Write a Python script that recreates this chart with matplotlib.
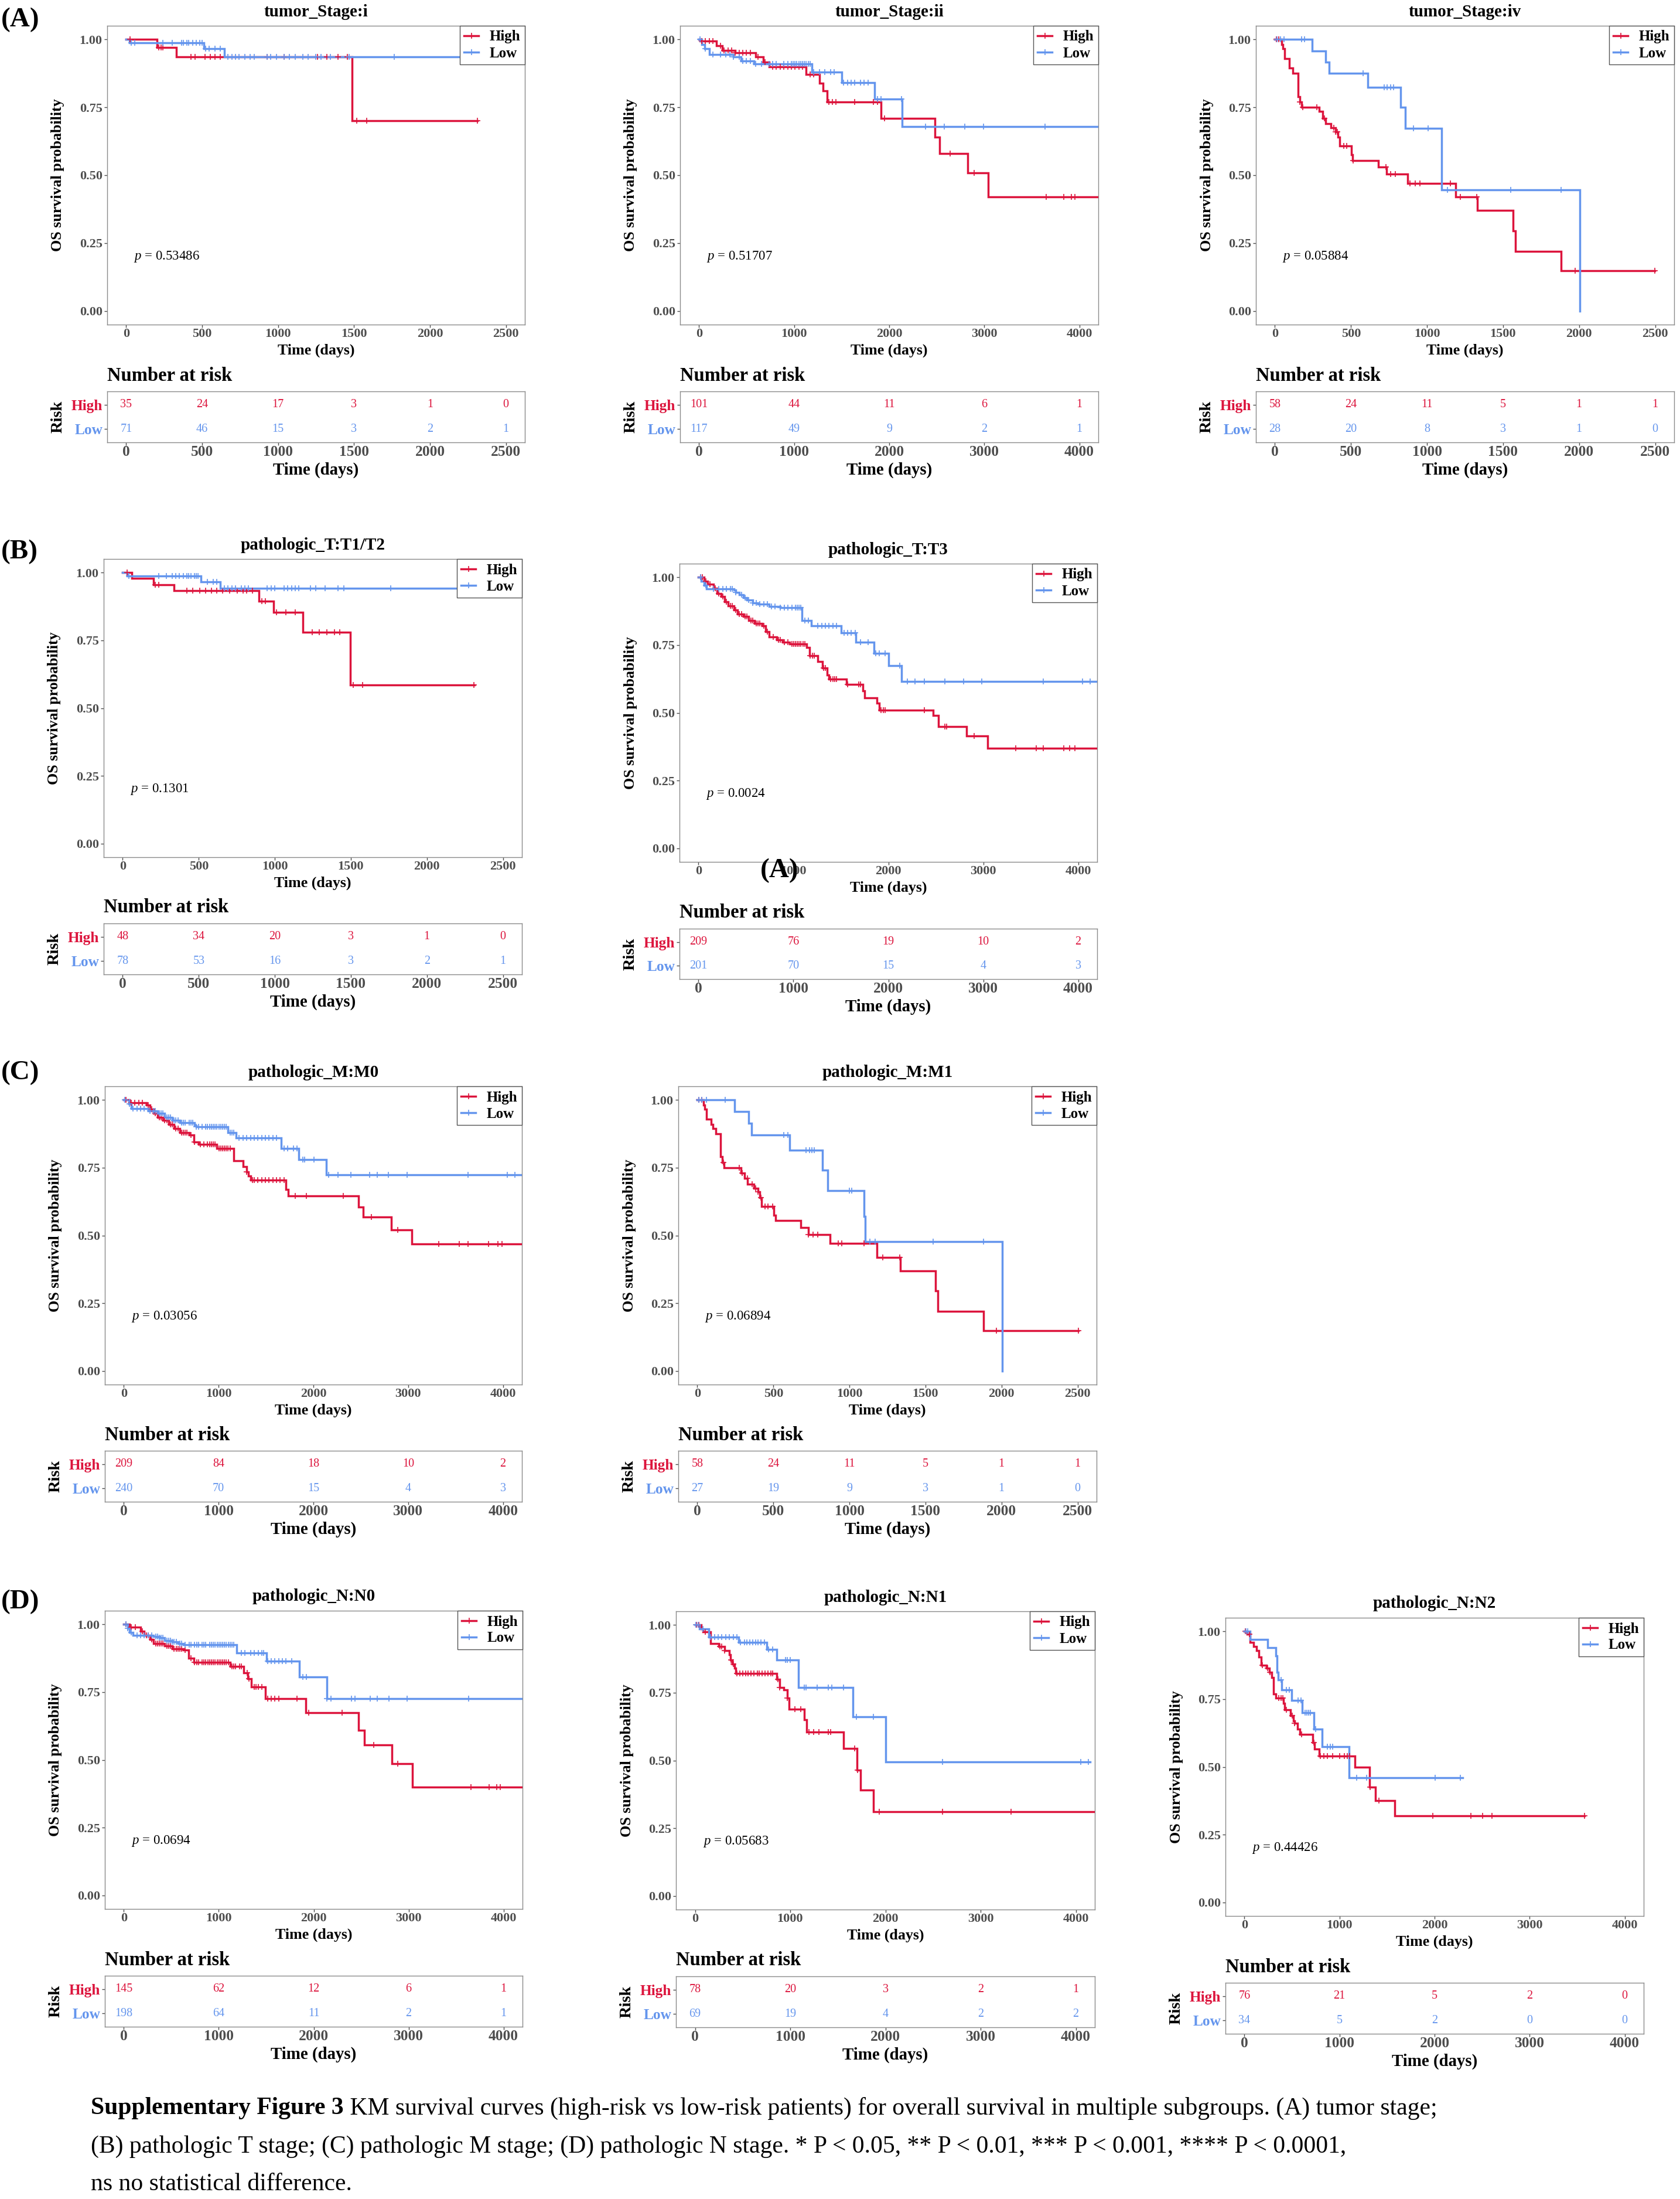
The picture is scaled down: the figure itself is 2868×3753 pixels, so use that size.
import numpy as np
import matplotlib
matplotlib.use("Agg")
import matplotlib.pyplot as plt
from matplotlib.lines import Line2D

# ---------------- DATA ----------------
# Panel A1: tumor_Stage:i
A1_title = "tumor_Stage:i"
A1_pval = "0.53486"
A1_high_t = [0, 204, 332, 1488]
A1_high_s = [1.0, 0.971, 0.936, 0.70]
A1_high_end = 2311
A1_high_cens = [27, 215, 230, 240, 425, 455, 519, 555, 585, 621, 928, 1039, 1260, 1321, 1395, 1456, 1518, 1584, 2311]
A1_low_t = [0, 20, 511, 646]
A1_low_s = [1.0, 0.988, 0.965, 0.936]
A1_low_end = 2700
A1_low_cens = [32, 56, 241, 302, 363, 376, 400, 413, 437, 462, 486, 499, 523, 548, 585, 621, 670, 695, 720, 744,
               781, 818, 842, 928, 953, 990, 1039, 1076, 1113, 1162, 1199, 1248, 1284, 1346, 1469, 1763]
A1_risk_times = [0, 500, 1000, 1500, 2000, 2500]
A1_risk_high = [35, 24, 17, 3, 1, 0]
A1_risk_low = [71, 46, 15, 3, 2, 1]

# Panel A2: tumor_Stage:ii
A2_title = "tumor_Stage:ii"
A2_pval = "0.51707"
A2_high_t = [0, 8, 185, 244, 381, 597, 676, 735, 1128, 1265, 1304, 1344, 1913, 2483, 2530, 2825, 3041]
A2_high_s = [1.0, 0.993, 0.977, 0.96, 0.95, 0.936, 0.917, 0.90, 0.87, 0.838, 0.81, 0.77, 0.71, 0.64, 0.58, 0.508, 0.42]
A2_high_end = 4300
A2_high_cens = [28, 67, 106, 145, 224, 263, 303, 342, 381, 420, 460, 499, 538, 617, 695, 774, 813, 853, 892, 931,
                970, 1010, 1049, 1088, 1167, 1206, 1363, 1403, 1442, 1638, 1835, 1874, 1953, 2640, 2896, 3650, 3839,
                3917, 3956]
A2_low_t = [0, 28, 59, 106, 361, 440, 577, 1187, 1501, 1847, 2137]
A2_low_s = [1.0, 0.98, 0.965, 0.945, 0.935, 0.92, 0.91, 0.88, 0.84, 0.78, 0.678]
A2_low_end = 4300
A2_low_cens = [8, 67, 145, 224, 283, 322, 361, 420, 460, 499, 538, 597, 656, 735, 774, 813, 892, 931, 970, 990,
               1010, 1029, 1049, 1069, 1088, 1108, 1128, 1147, 1167, 1206, 1265, 1324, 1383, 1422, 1521, 1560, 1599,
               1638, 1697, 1737, 1776, 1874, 1913, 2130, 2385, 2581, 2797, 2994, 3642]
A2_risk_times = [0, 1000, 2000, 3000, 4000]
A2_risk_high = [101, 44, 11, 6, 1]
A2_risk_low = [117, 49, 9, 2, 1]

# Panel A3: tumor_Stage:iv
A3_title = "tumor_Stage:iv"
A3_pval = "0.05884"
A3_high_t = [0, 43, 53, 62, 94, 117, 153, 164, 175, 292, 313, 335, 367, 398, 416, 426, 501, 509, 680, 733, 872,
             1189, 1330, 1566, 1581, 1880]
A3_high_s = [1.0, 0.98, 0.965, 0.93, 0.895, 0.875, 0.79, 0.77, 0.75, 0.735, 0.71, 0.69, 0.675, 0.66, 0.64, 0.607,
             0.575, 0.555, 0.53, 0.505, 0.47, 0.42, 0.37, 0.295, 0.22, 0.148]
A3_high_end = 2498
A3_high_cens = [9, 26, 164, 185, 277, 324, 388, 398, 409, 452, 473, 516, 729, 761, 793, 889, 921, 953, 1155, 1219,
                1326, 1975, 2498]
A3_low_t = [0, 243, 332, 356, 612, 825, 857, 1097, 2003]
A3_low_s = [1.0, 0.958, 0.917, 0.875, 0.823, 0.75, 0.673, 0.447, 0.0]
A3_low_end = 2003
A3_low_cens = [15, 36, 58, 175, 196, 580, 718, 739, 761, 782, 910, 1006, 1134, 1549, 1880]
A3_risk_times = [0, 500, 1000, 1500, 2000, 2500]
A3_risk_high = [58, 24, 11, 5, 1, 1]
A3_risk_low = [28, 20, 8, 3, 1, 0]

# Panel B1: pathologic_T:T1/T2
B1_title = "pathologic_T:T1/T2"
B1_pval = "0.1301"
B1_high_t = [0, 59, 201, 336, 896, 992, 1184, 1496]
B1_high_s = [1.0, 0.978, 0.955, 0.933, 0.895, 0.853, 0.78, 0.585]
B1_high_end = 2313
B1_high_cens = [29, 214, 238, 422, 459, 508, 545, 582, 619, 656, 705, 754, 791, 815, 852, 914, 938, 1012, 1073,
                1135, 1245, 1294, 1343, 1393, 1429, 1515, 1577, 2309]
B1_low_t = [0, 29, 513, 643]
B1_low_s = [1.0, 0.988, 0.965, 0.942]
B1_low_end = 2700
B1_low_cens = [42, 238, 287, 324, 349, 373, 398, 422, 435, 447, 472, 484, 496, 557, 594, 619, 668, 693, 717, 742,
               779, 803, 828, 950, 975, 1000, 1061, 1086, 1110, 1135, 1159, 1233, 1270, 1331, 1417, 1454, 1761]
B1_risk_times = [0, 500, 1000, 1500, 2000, 2500]
B1_risk_high = [48, 34, 20, 3, 1, 0]
B1_risk_low = [78, 53, 16, 3, 2, 1]

# Panel B2: pathologic_T:T3
B2_title = "pathologic_T:T3"
B2_pval = "0.0024"
B2_high_t = [0, 59, 98, 157, 196, 236, 275, 314, 373, 413, 471, 530, 589, 668, 707, 747, 825, 884, 963, 1139,
             1167, 1257, 1308, 1356, 1375, 1560, 1730, 1748, 1878, 1906, 2475, 2526, 2821, 3045]
B2_high_s = [1.0, 0.985, 0.975, 0.96, 0.94, 0.93, 0.91, 0.895, 0.88, 0.865, 0.855, 0.84, 0.83, 0.82, 0.80, 0.78,
             0.77, 0.76, 0.755, 0.74, 0.71, 0.69, 0.665, 0.64, 0.625, 0.605, 0.58, 0.555, 0.536, 0.51, 0.49, 0.45,
             0.415, 0.37]
B2_high_end = 4300
B2_high_cens = [20, 39, 79, 118, 177, 216, 255, 295, 334, 354, 393, 432, 452, 491, 511, 550, 570, 609, 629, 648,
                688, 727, 786, 845, 864, 904, 943, 982, 1002, 1022, 1041, 1061, 1080, 1100, 1120, 1179, 1198, 1218,
                1316, 1336, 1395, 1414, 1434, 1454, 1572, 1689, 1709, 1925, 1945, 1965, 2377, 2593, 2613, 2907,
                3340, 3556, 3634, 3850, 3909, 3968]
B2_low_t = [0, 31, 59, 86, 373, 393, 432, 471, 511, 570, 629, 747, 864, 1092, 1190, 1505, 1658, 1847, 2004, 2141]
B2_low_s = [1.0, 0.985, 0.97, 0.957, 0.952, 0.945, 0.935, 0.925, 0.915, 0.905, 0.90, 0.893, 0.887, 0.84, 0.82,
            0.795, 0.76, 0.72, 0.675, 0.615]
B2_low_end = 4300
B2_low_cens = [20, 79, 157, 216, 255, 295, 334, 354, 393, 452, 491, 530, 570, 609, 648, 688, 727, 766, 806, 864,
               904, 943, 982, 1022, 1041, 1061, 1080, 1120, 1159, 1257, 1297, 1336, 1375, 1414, 1454, 1532, 1572,
               1611, 1650, 1709, 1788, 1866, 1906, 1965, 2122, 2200, 2279, 2377, 2593, 2790, 2986, 3634, 4047, 4125]
B2_risk_times = [0, 1000, 2000, 3000, 4000]
B2_risk_high = [209, 76, 19, 10, 2]
B2_risk_low = [201, 70, 15, 4, 3]

# Panel C1: pathologic_M:M0
C1_title = "pathologic_M:M0"
C1_pval = "0.03056"
C1_high_t = [0, 59, 236, 275, 314, 354, 413, 471, 530, 589, 688, 739, 786, 982, 1159, 1257, 1297, 1316, 1336,
             1709, 1737, 2475, 2526, 2821, 3041]
C1_high_s = [1.0, 0.99, 0.98, 0.965, 0.95, 0.935, 0.925, 0.91, 0.895, 0.88, 0.87, 0.845, 0.835, 0.82, 0.775,
             0.755, 0.735, 0.72, 0.705, 0.67, 0.645, 0.605, 0.568, 0.52, 0.468]
C1_high_end = 4300
C1_high_cens = [20, 79, 118, 157, 196, 255, 295, 334, 373, 393, 432, 452, 491, 511, 550, 570, 609, 629, 648, 668,
                707, 747, 805, 845, 884, 904, 923, 943, 963, 1002, 1022, 1041, 1061, 1080, 1100, 1120, 1297, 1355,
                1375, 1414, 1454, 1493, 1532, 1572, 1611, 1650, 1689, 1807, 1925, 2318, 2613, 2888, 3320, 3536,
                3634, 3850, 3949, 3988]
C1_low_t = [0, 51, 79, 255, 354, 432, 511, 589, 747, 766, 1100, 1187, 1658, 1847, 2137]
C1_low_s = [1.0, 0.985, 0.967, 0.96, 0.95, 0.935, 0.925, 0.915, 0.905, 0.90, 0.88, 0.86, 0.82, 0.78, 0.723]
C1_low_end = 4300
C1_low_cens = [8, 59, 98, 138, 177, 216, 275, 314, 334, 373, 393, 413, 452, 471, 491, 530, 550, 570, 609, 629, 648,
               688, 707, 727, 766, 786, 825, 864, 884, 904, 923, 943, 963, 982, 1002, 1022, 1041, 1061, 1080, 1120,
               1139, 1159, 1218, 1257, 1297, 1336, 1375, 1414, 1454, 1493, 1532, 1572, 1611, 1689, 1729, 1788,
               1827, 1886, 1906, 2004, 2161, 2259, 2397, 2593, 2672, 2790, 2986, 3634, 4047, 4125]
C1_risk_times = [0, 1000, 2000, 3000, 4000]
C1_risk_high = [209, 84, 18, 10, 2]
C1_risk_low = [240, 70, 15, 4, 3]

# Panel C2: pathologic_M:M1
C2_title = "pathologic_M:M1"
C2_pval = "0.06894"
C2_high_t = [0, 42, 49, 59, 91, 103, 120, 152, 164, 177, 287, 312, 331, 373, 397, 410, 422, 503, 513, 679, 729,
             871, 1182, 1334, 1567, 1580, 1881]
C2_high_s = [1.0, 0.98, 0.965, 0.93, 0.91, 0.895, 0.875, 0.79, 0.77, 0.75, 0.73, 0.71, 0.69, 0.675, 0.66, 0.64,
             0.607, 0.575, 0.555, 0.53, 0.503, 0.47, 0.42, 0.37, 0.295, 0.22, 0.148]
C2_high_end = 2507
C2_high_cens = [10, 29, 172, 275, 294, 329, 361, 385, 397, 417, 446, 466, 496, 729, 760, 790, 925, 949, 1097, 1219,
                1330, 1967, 2507]
C2_low_t = [0, 245, 336, 356, 608, 822, 859, 1097, 1102, 2004]
C2_low_s = [1.0, 0.957, 0.913, 0.87, 0.815, 0.74, 0.665, 0.57, 0.477, 0.0]
C2_low_end = 2004
C2_low_cens = [10, 29, 59, 182, 569, 594, 716, 736, 755, 770, 998, 1016, 1133, 1170, 1550, 1881]
C2_risk_times = [0, 500, 1000, 1500, 2000, 2500]
C2_risk_high = [58, 24, 11, 5, 1, 1]
C2_risk_low = [27, 19, 9, 3, 1, 0]

# Panel D1: pathologic_N:N0
D1_title = "pathologic_N:N0"
D1_pval = "0.0694"
D1_high_t = [0, 59, 177, 216, 275, 314, 432, 511, 629, 680, 739, 1120, 1265, 1304, 1344, 1493, 1917, 2475, 2534,
             2821, 3041]
D1_high_s = [1.0, 0.99, 0.975, 0.96, 0.945, 0.93, 0.92, 0.91, 0.905, 0.875, 0.86, 0.845, 0.82, 0.80, 0.77, 0.725,
             0.675, 0.61, 0.555, 0.485, 0.40]
D1_high_end = 4300
D1_high_cens = [20, 79, 118, 196, 236, 255, 295, 334, 354, 373, 393, 413, 452, 471, 491, 530, 550, 570, 589, 609,
                648, 707, 747, 766, 786, 825, 845, 864, 884, 904, 923, 943, 963, 982, 1002, 1022, 1041, 1061, 1080,
                1100, 1139, 1159, 1179, 1218, 1238, 1297, 1316, 1375, 1395, 1414, 1454, 1513, 1552, 1591, 1631,
                1827, 1945, 2298, 2632, 2888, 3654, 3850, 3929, 3968]
D1_low_t = [0, 39, 59, 98, 314, 373, 432, 511, 570, 629, 1187, 1501, 1847, 2137]
D1_low_s = [1.0, 0.985, 0.97, 0.96, 0.955, 0.95, 0.94, 0.935, 0.93, 0.925, 0.895, 0.865, 0.805, 0.725]
D1_low_end = 4300
D1_low_cens = [20, 39, 79, 138, 177, 216, 255, 295, 334, 354, 373, 393, 413, 452, 471, 491, 511, 530, 550, 589, 609,
               648, 688, 707, 747, 766, 786, 825, 845, 864, 904, 923, 943, 963, 982, 1002, 1022, 1041, 1061, 1080,
               1100, 1120, 1139, 1159, 1238, 1277, 1336, 1375, 1414, 1454, 1473, 1513, 1552, 1591, 1631, 1670,
               1709, 1768, 1886, 1925, 2141, 2181, 2397, 2436, 2593, 2672, 2790, 2986, 3634]
D1_risk_times = [0, 1000, 2000, 3000, 4000]
D1_risk_high = [145, 62, 12, 6, 1]
D1_risk_low = [198, 64, 11, 2, 1]

# Panel D2: pathologic_N:N1
D2_title = "pathologic_N:N1"
D2_pval = "0.05683"
D2_high_t = [0, 67, 86, 165, 251, 310, 361, 373, 393, 413, 428, 860, 892, 931, 970, 990, 1147, 1175, 1560, 1701,
             1741, 1874]
D2_high_s = [1.0, 0.985, 0.975, 0.932, 0.92, 0.905, 0.89, 0.87, 0.855, 0.84, 0.82, 0.80, 0.77, 0.76, 0.73, 0.69,
             0.65, 0.605, 0.545, 0.465, 0.39, 0.31]
D2_high_end = 4300
D2_high_cens = [16, 39, 106, 263, 283, 310, 381, 401, 440, 468, 499, 530, 558, 585, 617, 656, 676, 703, 735, 766,
                794, 813, 872, 892, 970, 1049, 1108, 1198, 1245, 1304, 1403, 1422, 1678, 1709, 1933, 2601, 3320]
D2_low_t = [0, 47, 145, 460, 754, 860, 1088, 1658, 2000]
D2_low_s = [1.0, 0.985, 0.955, 0.935, 0.91, 0.87, 0.77, 0.66, 0.495]
D2_low_end = 4153
D2_low_cens = [8, 35, 86, 165, 204, 244, 283, 322, 361, 401, 440, 479, 519, 546, 578, 609, 636, 664, 695, 727,
               774, 813, 951, 970, 1002, 1147, 1167, 1285, 1403, 1434, 1560, 1697, 1874, 2601, 4055, 4133]
D2_risk_times = [0, 1000, 2000, 3000, 4000]
D2_risk_high = [78, 20, 3, 2, 1]
D2_risk_low = [69, 19, 4, 2, 2]

# Panel D3: pathologic_N:N2
D3_title = "pathologic_N:N2"
D3_pval = "0.44426"
D3_high_t = [0, 25, 61, 97, 126, 151, 177, 231, 260, 289, 303, 332, 411, 422, 483, 512, 530, 559, 584, 721, 739,
             783, 1161, 1317, 1378, 1583]
D3_high_s = [1.0, 0.99, 0.96, 0.945, 0.93, 0.905, 0.875, 0.865, 0.85, 0.83, 0.77, 0.755, 0.735, 0.71, 0.69, 0.67,
             0.66, 0.64, 0.62, 0.59, 0.565, 0.54, 0.50, 0.425, 0.375, 0.32]
D3_high_end = 3578
D3_high_cens = [7, 50, 188, 242, 267, 361, 386, 404, 440, 501, 530, 602, 729, 801, 837, 873, 927, 999, 1053, 1082,
                1107, 1324, 1414, 1984, 2381, 2503, 2604, 3578]
D3_low_t = [0, 61, 242, 332, 343, 357, 393, 494, 610, 729, 819, 1100]
D3_low_s = [1.0, 0.97, 0.94, 0.91, 0.85, 0.82, 0.785, 0.745, 0.70, 0.64, 0.575, 0.46]
D3_low_end = 2298
D3_low_cens = [18, 36, 386, 440, 469, 566, 592, 638, 656, 674, 693, 747, 873, 902, 927, 1180, 1288, 2009, 2272]
D3_risk_times = [0, 1000, 2000, 3000, 4000]
D3_risk_high = [76, 21, 5, 2, 0]
D3_risk_low = [34, 5, 2, 0, 0]

caption_bold = "Supplementary Figure 3"
caption_line1 = " KM survival curves (high-risk vs low-risk patients) for overall survival in multiple subgroups. (A) tumor stage;"
caption_line2 = "(B) pathologic T stage; (C) pathologic M stage; (D) pathologic N stage. * P < 0.05, ** P < 0.01, *** P < 0.001, **** P < 0.0001,"
caption_line3 = "ns no statistical difference."

# ---------------- STYLE / LAYOUT ----------------
plt.rcParams['font.family'] = ['Liberation Serif', 'DejaVu Serif']
plt.rcParams['mathtext.fontset'] = 'custom'
plt.rcParams['mathtext.rm'] = 'Liberation Serif'
plt.rcParams['mathtext.it'] = 'Liberation Serif:italic'

RED = '#DC143C'
BLUE = '#6495ED'
GREY_TXT = '#4D4D4D'
FRAME = '#8A8A8A'
LW = 2.5
MS = 7

W, H = 2868, 3753
fig = plt.figure(figsize=(W / 100, H / 100), dpi=100)
fig.patch.set_facecolor('white')


def px_axes(l, r, t, b):
    return fig.add_axes([l / W, 1 - b / H, (r - l) / W, (b - t) / H])


def surv_at(t_arr, s_arr, times):
    t_arr = np.asarray(t_arr, float)
    s_arr = np.asarray(s_arr, float)
    idx = np.searchsorted(t_arr, np.asarray(times, float), side='right') - 1
    return s_arr[np.clip(idx, 0, len(s_arr) - 1)]


def style_frame(ax):
    for sp in ax.spines.values():
        sp.set_color(FRAME)
        sp.set_linewidth(1.0)
    ax.tick_params(direction='out', length=3.5, width=1.0, color=GREY_TXT)


def km_panel(main_box, table_box, title, pval, xmax, curves, risk_times, risk_high, risk_low):
    l, r, t, b = main_box
    ax = px_axes(l, r, t, b)
    for (ct, cs, cend, ccens, col) in curves:
        xs = list(ct) + [cend]
        ys = list(cs) + [cs[-1]]
        ax.step(xs, ys, where='post', color=col, lw=LW, solid_joinstyle='miter', zorder=3)
        ax.plot(ccens, surv_at(ct, cs, ccens), linestyle='none', marker='+', ms=MS, mew=1.2,
                color=col, zorder=4)
    ax.set_xlim(-0.05 * xmax, 1.05 * xmax)
    ax.set_ylim(-0.05, 1.05)
    ax.set_xticks(risk_times)
    ax.set_yticks([0, 0.25, 0.5, 0.75, 1.0])
    ax.set_yticklabels(['0.00', '0.25', '0.50', '0.75', '1.00'])
    style_frame(ax)
    ax.tick_params(axis='x', pad=1)
    ax.tick_params(axis='y', pad=2.5)
    for lab in ax.get_xticklabels() + ax.get_yticklabels():
        lab.set_fontsize(16)
        lab.set_fontweight('bold')
        lab.set_color(GREY_TXT)
    ax.annotate(title, xy=(0.5, 1), xycoords='axes fraction', xytext=(0, 24), textcoords='offset pixels',
                ha='center', va='center', fontsize=21, fontweight='bold')
    ax.annotate('OS survival probability', xy=(0, 0.5), xycoords='axes fraction', xytext=(-84, 0),
                textcoords='offset pixels', ha='center', va='center', rotation=90, fontsize=18.7,
                fontweight='bold')
    ax.annotate('Time (days)', xy=(0.5, 0), xycoords='axes fraction', xytext=(0, -44),
                textcoords='offset pixels', ha='center', va='center', fontsize=18.7, fontweight='bold')
    ax.text(xmax / 50, 0.2, r'$p$ = ' + pval, fontsize=16.5, ha='left', va='center')
    handles = [Line2D([], [], color=RED, lw=LW, marker='+', ms=MS, mew=1.2),
               Line2D([], [], color=BLUE, lw=LW, marker='+', ms=MS, mew=1.2)]
    leg = ax.legend(handles, ['High', 'Low'], loc='upper right', bbox_to_anchor=(1, 1), borderaxespad=0,
                    frameon=True, fancybox=False, edgecolor='#555555', framealpha=1,
                    prop={'weight': 'bold', 'size': 18}, handlelength=1.0, handletextpad=0.75,
                    borderpad=0.3, labelspacing=0.2)
    leg.get_frame().set_linewidth(1.0)
    leg.set_zorder(10)

    tt, tb = table_box
    axt = px_axes(l, r, tt, tb)
    axt.set_xlim(-0.05 * xmax, 1.05 * xmax)
    axt.set_ylim(0.45, 2.55)
    axt.set_xticks(risk_times)
    axt.set_yticks([2, 1])
    axt.set_yticklabels(['High', 'Low'])
    style_frame(axt)
    axt.tick_params(axis='x', pad=0)
    axt.tick_params(axis='y', pad=2)
    for lab in axt.get_xticklabels():
        lab.set_fontsize(18.4)
        lab.set_fontweight('bold')
        lab.set_color(GREY_TXT)
    for lab, col in zip(axt.get_yticklabels(), [RED, BLUE]):
        lab.set_fontsize(18.3)
        lab.set_fontweight('bold')
        lab.set_color(col)
    for x, nh, nl in zip(risk_times, risk_high, risk_low):
        axt.text(x, 2, str(nh), color=RED, fontsize=14.5, ha='center', va='center')
        axt.text(x, 1, str(nl), color=BLUE, fontsize=14.5, ha='center', va='center')
    axt.annotate('Number at risk', xy=(0, 1), xycoords='axes fraction', xytext=(0, 27),
                 textcoords='offset pixels', ha='left', va='center', fontsize=23.5, fontweight='bold')
    axt.annotate('Risk', xy=(0, 0.5), xycoords='axes fraction', xytext=(-84, 0), textcoords='offset pixels',
                 ha='center', va='center', rotation=90, fontsize=20.5, fontweight='bold')
    axt.annotate('Time (days)', xy=(0.5, 0), xycoords='axes fraction', xytext=(0, -47),
                 textcoords='offset pixels', ha='center', va='center', fontsize=20.8, fontweight='bold')
    return ax, axt


panels = [
    ((183, 896, 44, 554), (668, 755), A1_title, A1_pval, 2500,
     [(A1_high_t, A1_high_s, A1_high_end, A1_high_cens, RED), (A1_low_t, A1_low_s, A1_low_end, A1_low_cens, BLUE)],
     A1_risk_times, A1_risk_high, A1_risk_low),
    ((1161, 1875, 44, 554), (668, 755), A2_title, A2_pval, 4000,
     [(A2_high_t, A2_high_s, A2_high_end, A2_high_cens, RED), (A2_low_t, A2_low_s, A2_low_end, A2_low_cens, BLUE)],
     A2_risk_times, A2_risk_high, A2_risk_low),
    ((2144, 2858, 44, 554), (668, 755), A3_title, A3_pval, 2500,
     [(A3_high_t, A3_high_s, A3_high_end, A3_high_cens, RED), (A3_low_t, A3_low_s, A3_low_end, A3_low_cens, BLUE)],
     A3_risk_times, A3_risk_high, A3_risk_low),
    ((177, 891, 954, 1463), (1576, 1663), B1_title, B1_pval, 2500,
     [(B1_high_t, B1_high_s, B1_high_end, B1_high_cens, RED), (B1_low_t, B1_low_s, B1_low_end, B1_low_cens, BLUE)],
     B1_risk_times, B1_risk_high, B1_risk_low),
    ((1160, 1873, 962, 1471), (1585, 1671), B2_title, B2_pval, 4000,
     [(B2_high_t, B2_high_s, B2_high_end, B2_high_cens, RED), (B2_low_t, B2_low_s, B2_low_end, B2_low_cens, BLUE)],
     B2_risk_times, B2_risk_high, B2_risk_low),
    ((179, 891, 1854, 2363), (2476, 2563), C1_title, C1_pval, 4000,
     [(C1_high_t, C1_high_s, C1_high_end, C1_high_cens, RED), (C1_low_t, C1_low_s, C1_low_end, C1_low_cens, BLUE)],
     C1_risk_times, C1_risk_high, C1_risk_low),
    ((1158, 1872, 1854, 2363), (2476, 2563), C2_title, C2_pval, 2500,
     [(C2_high_t, C2_high_s, C2_high_end, C2_high_cens, RED), (C2_low_t, C2_low_s, C2_low_end, C2_low_cens, BLUE)],
     C2_risk_times, C2_risk_high, C2_risk_low),
    ((179, 892, 2749, 3258), (3372, 3459), D1_title, D1_pval, 4000,
     [(D1_high_t, D1_high_s, D1_high_end, D1_high_cens, RED), (D1_low_t, D1_low_s, D1_low_end, D1_low_cens, BLUE)],
     D1_risk_times, D1_risk_high, D1_risk_low),
    ((1154, 1869, 2750, 3259), (3373, 3460), D2_title, D2_pval, 4000,
     [(D2_high_t, D2_high_s, D2_high_end, D2_high_cens, RED), (D2_low_t, D2_low_s, D2_low_end, D2_low_cens, BLUE)],
     D2_risk_times, D2_risk_high, D2_risk_low),
    ((2092, 2806, 2761, 3270), (3384, 3471), D3_title, D3_pval, 4000,
     [(D3_high_t, D3_high_s, D3_high_end, D3_high_cens, RED), (D3_low_t, D3_low_s, D3_low_end, D3_low_cens, BLUE)],
     D3_risk_times, D3_risk_high, D3_risk_low),
]

for p in panels:
    km_panel(*p)

# panel letters
for lab, yc in [('(A)', 34), ('(B)', 942), ('(C)', 1831), ('(D)', 2734)]:
    fig.text(2 / W, 1 - yc / H, lab, fontsize=34, fontweight='bold', ha='left', va='center')
# stray label present in the reference (overlaps the 1000 tick there too)
fig.text(1331 / W, 1 - 1486 / H, '(A)', fontsize=34, fontweight='bold', ha='center', va='center')

# caption
cap_fs = 30
renderer = fig.canvas.get_renderer()
tb = fig.text(155 / W, 1 - 3598 / H, caption_bold, fontsize=cap_fs, fontweight='bold', ha='left', va='center')
bb = tb.get_window_extent(renderer)
fig.text(bb.x1 / W, 1 - 3598 / H, caption_line1, fontsize=cap_fs, ha='left', va='center')
fig.text(155 / W, 1 - 3664 / H, caption_line2, fontsize=cap_fs, ha='left', va='center')
fig.text(155 / W, 1 - 3728 / H, caption_line3, fontsize=cap_fs, ha='left', va='center')

fig.savefig('out.png', dpi=100, facecolor='white')
